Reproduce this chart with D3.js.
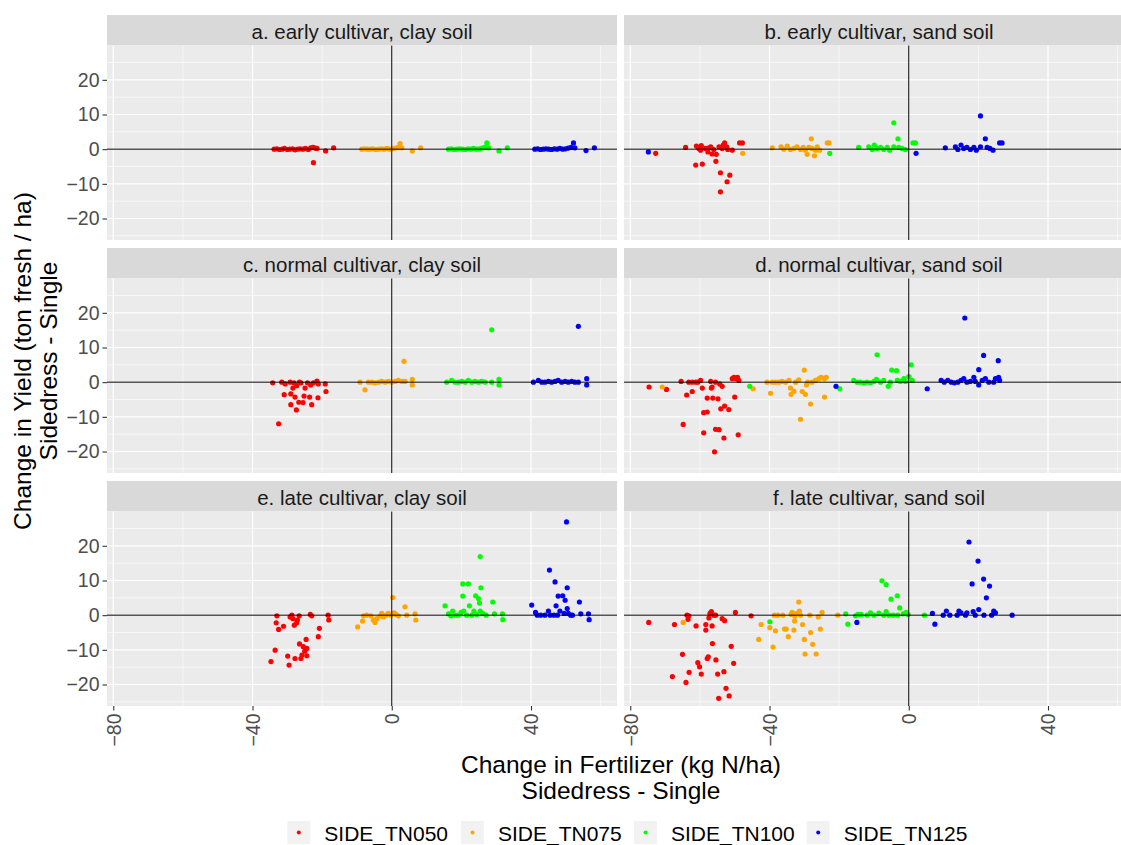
<!DOCTYPE html>
<html>
<head>
<meta charset="utf-8">
<script src="https://cdn.jsdelivr.net/npm/d3@7"></script>
<style>
  body { margin: 0; background: #fff; }
  svg { display: block; font-family: "Liberation Sans", Arial, sans-serif; }
</style>
</head>
<body>
<svg id="chart"></svg>
<script>
// series and facet labels
const seriesNames = ["SIDE_TN050", "SIDE_TN075", "SIDE_TN100", "SIDE_TN125"];
const seriesColors = ["#ff0000", "#ffa500", "#00ff00", "#0000ff"];
const panelTitles = [
  "a. early cultivar, clay soil", "b. early cultivar, sand soil",
  "c. normal cultivar, clay soil", "d. normal cultivar, sand soil",
  "e. late cultivar, clay soil", "f. late cultivar, sand soil"
];
const xTicks = [-80, -40, 0, 40];
const xMinor = [-60, -20, 20, 60];
const yTicks = [-20, -10, 0, 10, 20];
const yMinor = [-25, -15, -5, 5, 15, 25];

// [change in fertilizer, change in yield]
const a_TN050 = [[-33.8,0],[-33,0.1],[-32.2,-0.1],[-31.5,0],[-30.8,0.2],[-30,-0.1],[-29.3,0],[-28.5,0.1],[-27.8,-0.2],[-27,0],[-26.3,0.1],[-25.5,0],[-24.8,0.2],[-24,-0.1],[-23.3,0.4],[-22.6,0.5],[-22,0.3],[-21.5,0.2],[-22.5,-3.9],[-19,-0.5],[-16.7,0.4]];
const a_TN075 = [[-8.6,0],[-7.8,0.1],[-7,0],[-6.2,0],[-5.4,0.1],[-4.6,-0.1],[-3.8,0],[-3,0.1],[-2.2,0],[-1.4,0.2],[-0.6,0],[0.2,0.1],[1,0.3],[1.8,0.5],[2.4,1.6],[2.9,0.4],[5.9,-0.5],[8.3,0.4]];
const a_TN100 = [[16.3,0],[17.1,0.1],[17.9,-0.1],[18.7,0],[19.5,0.1],[20.3,0],[21.1,-0.1],[21.9,0.1],[22.7,0],[23.5,0.2],[24.3,0],[25.1,0.1],[25.9,0.3],[26.7,0.5],[27.3,1.8],[27.8,0.4],[30.8,-0.5],[33.2,0.4]];
const a_TN125 = [[41.1,0],[41.9,0.1],[42.7,-0.1],[43.5,0],[44.3,0.1],[45.1,0],[45.9,-0.1],[46.7,0.1],[47.5,0],[48.3,0.2],[49.1,0],[49.9,0.1],[50.7,0.3],[51.5,0.5],[52.2,1.8],[52.6,0.4],[55.8,-0.4],[58.2,0.4]];

const b_TN050 = [[-72.7,-1.2],[-64.1,0.5],[-61.2,-4.6],[-59.3,-4.3],[-61,0.9],[-59.8,-0.3],[-59.6,1],[-60.3,0.2],[-58.4,0.2],[-57.7,-0.8],[-57.4,0.4],[-56.9,0.7],[-56.5,-1.4],[-56,-0.1],[-55.3,-1.5],[-55.4,-3.5],[-54.5,0.7],[-54.1,-6.8],[-54.1,-12.3],[-53.6,0.2],[-53.3,1.2],[-52.9,1.8],[-52.3,0.7],[-52.2,-9.4],[-52,-0.1],[-51.4,-7.5],[-50.7,-0.3],[-48.6,1.8],[-47.8,1.8]];
const b_TN075 = [[-47.7,-1.2],[-39.2,0.4],[-36.7,0.7],[-35.9,0],[-34.9,0.9],[-34,-0.1],[-33,0.2],[-32.1,0.7],[-31.1,-0.1],[-30.3,0.5],[-29.7,-0.3],[-29.2,-1.5],[-28.7,0.5],[-28,3],[-27.8,0.2],[-27.1,-1.9],[-26.8,-0.3],[-26.3,0.7],[-25.6,-0.3],[-23.4,1.8],[-22.9,1.8]];
const b_TN100 = [[-22.7,-1.2],[-14.4,0.5],[-11.5,0.7],[-10.5,-0.1],[-9.9,1.2],[-9.1,0.2],[-8.1,0.5],[-7.2,-0.1],[-6.2,0.5],[-5.5,-0.3],[-4.3,7.6],[-4.3,0.7],[-3.1,3],[-2.9,0.5],[-1.9,0.2],[-1,-0.1],[1.2,1.8],[1.9,1.8]];
const b_TN125 = [[-74.8,-0.8],[2.1,-1.2],[10.5,0.4],[13.4,0.7],[14.1,-0.1],[15,1.2],[15.8,0.2],[16.7,0.5],[17.7,-0.1],[18.7,0.5],[19.4,-0.3],[20.6,9.6],[20.6,0.7],[22,3],[22.5,0.5],[23.3,0.2],[24.2,-0.3],[26.1,1.8],[26.8,1.8]];

const c_TN050 = [[-34.2,-0.2],[-31.6,0],[-30.6,-0.5],[-30.9,-3.6],[-32.5,-12],[-29.2,0],[-29,-3.4],[-28.4,-1.7],[-28.1,-0.2],[-27.8,-4.3],[-27.3,-1],[-29,-6.5],[-27.4,-8],[-26.7,-5.8],[-26.5,0],[-26.1,-0.2],[-25.5,-5.9],[-25.2,-4],[-24.9,-1.7],[-24.2,-0.2],[-23.6,-4.3],[-23.3,-0.8],[-23,-6.5],[-22.5,-0.2],[-21.5,0.3],[-21.2,-4.5],[-21.1,-0.5],[-19.1,-0.5],[-18.9,-2.7]];
const c_TN075 = [[-9.1,0],[-7.7,-2.2],[-6.7,0],[-5.7,0],[-4.8,-0.2],[-3.8,0],[-2.9,0.2],[-1.9,0],[-1,0.2],[0,0],[1,0.2],[1.9,0.5],[2.9,0.2],[3.5,6],[3.8,0.2],[5.9,0.8],[5.9,-0.8]];
const c_TN100 = [[15.8,0],[17.2,0.5],[18.2,0],[19.1,0],[20.1,0.2],[21.1,0],[22,0.5],[23,0],[23.9,0.2],[24.9,0],[25.8,0.2],[26.8,0],[28.7,15.1],[28.7,0],[30.8,0.8],[30.8,-0.8]];
const c_TN125 = [[40.7,0],[42.1,0.5],[43.1,0],[44,0],[45,0.2],[45.9,0],[46.9,0.2],[47.8,0.5],[48.8,0],[49.8,0.2],[50.7,0],[51.7,0.2],[52.6,0],[53.6,16.1],[53.6,0],[56,1],[56,-0.8]];

const d_TN050 = [[-74.6,-1.4],[-69.6,-2.1],[-65.4,0.2],[-64.8,-12.2],[-63.8,-3.7],[-63.2,0],[-62.2,-2.7],[-62.2,0],[-61.2,0],[-60.6,0],[-59.8,0.5],[-59.3,-1.7],[-58.9,-8.8],[-58.9,-14.6],[-57.9,-8.6],[-57.9,-4.6],[-56.9,0.2],[-56.7,-1.7],[-56.5,-1.4],[-56.3,-4.6],[-55.8,-20.1],[-55.5,0],[-55.5,-13.6],[-54.8,-4.8],[-54.5,-13.7],[-54.3,-0.5],[-54,-7.7],[-53.6,-1.2],[-53.1,-16.1],[-52.9,-6.9],[-51.7,-7.9],[-50.7,1],[-50.2,1.4],[-50,-4.3],[-49.7,1],[-49.2,1.4],[-49,-15.2],[-48.8,0.5]];
const d_TN075 = [[-70.8,-1.4],[-44.7,-1.9],[-40.7,0],[-39.7,-3.2],[-39.2,0],[-38.3,0],[-37.3,0],[-36.4,0.2],[-35.4,0],[-34.4,0.5],[-34,-1.7],[-33.8,-3.5],[-33,-2.6],[-32.5,0],[-31.6,0.7],[-31.1,-10.7],[-30.6,-2.7],[-30,3.5],[-29.7,-3.5],[-29.4,-0.8],[-29,0],[-28.2,-6.3],[-27.8,0],[-26.8,0.5],[-25.8,1],[-25.2,1.4],[-24.2,-4.3],[-24.2,1],[-23.7,1.4]];
const d_TN100 = [[-45.7,-1.2],[-19.8,-1.9],[-15.8,0.5],[-14.8,0],[-13.9,0],[-12.9,-0.2],[-12,0],[-11,-0.2],[-10,0.2],[-9.3,0.8],[-9.1,7.9],[-8.1,0],[-7.2,0.5],[-5.9,-1.2],[-5.3,0],[-4.9,3.5],[-3.5,3.3],[-3.3,0.5],[-2.4,0.2],[-1.4,1],[-1,0.2],[0,1.6],[0.7,5],[1,0.5]];
const d_TN125 = [[-20.9,-1.2],[5.3,-1.9],[9.3,0.5],[10.2,0],[11.2,0.5],[12.2,0],[13.1,-0.2],[14.1,0],[15,0.5],[15.8,1],[16.1,18.5],[16.7,0],[17.7,0.2],[18.7,1.4],[19.1,0.2],[20.1,3.6],[20.1,-0.8],[21.1,0.5],[21.5,7.7],[22,1],[23,0],[24.4,0],[24.9,1],[25.7,6.2],[25.8,1.4],[26.1,0.5]];

const e_TN050 = [[-34.7,-13.4],[-33.5,-10.1],[-33.2,-2.2],[-33,-0.2],[-32.5,-4.1],[-31.1,-3.2],[-29.9,-11.8],[-29.5,-14.4],[-29.2,-0.5],[-28.7,0],[-28.4,-1],[-28,-2.9],[-27.8,-12.5],[-27.3,-2.2],[-27.1,-1.4],[-26.6,-0.2],[-26.5,-8.3],[-26.1,-12.5],[-25.8,-11.5],[-25.4,-9.1],[-25,-10.4],[-24.6,-7],[-24.4,-9.6],[-24.4,-11.7],[-23.4,0.2],[-23,-0.2],[-21.1,-6.2],[-20.8,-3.8],[-18.3,0],[-18.1,-1.4]];
const e_TN075 = [[-9.8,-3.4],[-8.4,-1.7],[-8.1,-0.2],[-7.2,0],[-6,-0.2],[-5.3,-1.4],[-4.8,-2.1],[-4.3,-1],[-3.3,-0.2],[-2.9,0.5],[-2.4,-0.5],[-1.6,0],[-1,0.5],[-0.3,0],[0.3,5.1],[0.7,0.7],[1.2,0.2],[1.9,-0.2],[3.8,2.4],[4.3,0],[6.7,0.4],[6.9,-1.4]];
const e_TN100 = [[15.3,2.7],[16.3,0.4],[17,-0.2],[17.5,1.2],[18.2,0],[19.1,0],[19.9,0.8],[20.4,5.5],[20.4,9],[20.7,1.2],[21.5,0],[22,9],[22.3,2.7],[23,0],[23.6,1.2],[24.1,5.6],[24.4,0.2],[24.9,4.8],[25.2,3.5],[25.4,16.9],[25.4,1.2],[25.6,7.9],[26.1,0.5],[27.1,0],[29,3.8],[29.5,0.4],[31.8,0.4],[31.9,-1.3]];
const e_TN125 = [[40.2,2.9],[41.3,0.8],[41.8,0],[42.8,0],[44,0],[45,1.2],[45.3,13],[45.5,0],[46.6,0],[46.9,9.6],[47.2,2.7],[47.6,0],[47.8,5.5],[48.3,1.2],[49.1,5.6],[49.5,0.5],[49.8,4.3],[50.2,26.9],[50.4,7.9],[50.4,1.9],[50.7,0.5],[51.4,0],[51.9,0],[53.9,3.8],[54.3,0.4],[56.5,0.4],[56.7,-1.3]];

const f_TN050 = [[-74.7,-2.1],[-67.9,-17.7],[-67.3,-2.7],[-65,-11.3],[-64,-19.4],[-63.7,0],[-63.4,-1.2],[-63.1,-16.5],[-63.2,-0.2],[-61.1,-3.1],[-60.6,-13.7],[-60.1,-14.9],[-59.6,-17],[-58.3,-4.3],[-58.3,-2.7],[-57.9,-12.5],[-57.6,-12],[-57.4,-0.8],[-57.1,0.5],[-56.7,1],[-56.5,-3.1],[-56.4,-8.2],[-56,0],[-55.5,0],[-55.4,-12.9],[-54.9,-17],[-54.6,-24],[-53.6,-1],[-53.1,-16.3],[-52.9,-1.6],[-52.5,-21.1],[-51.6,-23.3],[-51,-9],[-50.3,-13.9],[-49.8,0.8],[-45.3,-0.2]];
const f_TN075 = [[-64.8,-2.1],[-43.1,-7],[-42.4,-2.7],[-39.9,-3.6],[-39,-9.2],[-38.6,0],[-38.3,-4.5],[-37.6,0],[-36.2,0],[-35.7,-4],[-35.2,-4],[-34.6,-6.2],[-33.8,0.2],[-33.5,0.8],[-33,-4.3],[-32.8,-1.7],[-32.7,-0.3],[-32.2,0.5],[-31.6,3.8],[-31.4,1.2],[-31.1,0],[-30.5,-2.7],[-30,-7],[-29.8,-11.2],[-28.4,0],[-28.2,-5],[-27.6,-8.4],[-26.6,-11.2],[-26,-0.5],[-25.4,-4],[-24.9,0.8],[-20.4,0]];
const f_TN100 = [[-39.9,-1.9],[-18.1,0.4],[-17.5,-2.6],[-15.3,-0.2],[-14.6,0.2],[-13.7,0.2],[-12,0],[-11,0.7],[-10,0],[-8.6,0.6],[-7.7,9.9],[-7.2,0],[-6.5,8.8],[-6.5,1],[-5.7,0],[-5.1,4.6],[-4.5,0],[-3.3,5.6],[-3.2,0],[-2.6,2.1],[-1.6,0.4],[-0.7,0.8],[-0.2,0.2],[4.5,0]];
const f_TN125 = [[-14.9,-2.1],[6.8,0.5],[7.5,-2.6],[9.9,0],[10.8,1.2],[11.8,0],[13.9,0],[14.4,1.2],[15,0.7],[16.3,0],[16.7,0.7],[17.3,21.1],[18.2,9],[18.5,1],[19.1,0],[19.9,15.6],[20.1,1.6],[21.5,10.4],[21.6,0],[22.3,5],[23.2,8.4],[23.8,0],[24.4,1.2],[24.9,0.7],[29.7,0]];

const panelData = [
  [a_TN050, a_TN075, a_TN100, a_TN125],
  [b_TN050, b_TN075, b_TN100, b_TN125],
  [c_TN050, c_TN075, c_TN100, c_TN125],
  [d_TN050, d_TN075, d_TN100, d_TN125],
  [e_TN050, e_TN075, e_TN100, e_TN125],
  [f_TN050, f_TN075, f_TN100, f_TN125]
];

const W = 1121, H = 845;
const svg = d3.select("#chart").attr("width", W).attr("height", H);

// facet geometry (panel b/d/f run past the right edge, as in the source)
const colX = [107, 624];
const rowY = [15, 248, 481];
const panelW = 510, stripH = 30.5, plotH = 194.5;

const x = d3.scaleLinear().domain([-81.8, 64.7]).range([0, panelW]);
const y = d3.scaleLinear().domain([-26.2, 29.9]).range([plotH, 0]);

panelTitles.forEach(function(title, i) {
  const col = i % 2, row = Math.floor(i / 2);
  const g = svg.append("g").attr("transform", `translate(${colX[col]}, ${rowY[row]})`);

  // strip
  g.append("rect").attr("width", panelW).attr("height", stripH).attr("fill", "#d9d9d9");
  g.append("text")
    .attr("x", panelW / 2).attr("y", 24)
    .attr("text-anchor", "middle")
    .attr("font-size", 20.5).attr("fill", "#1a1a1a")
    .text(title);

  const p = g.append("g").attr("transform", `translate(0, ${stripH})`);
  p.append("rect").attr("width", panelW).attr("height", plotH).attr("fill", "#ebebeb");

  // grid
  p.selectAll(".gxm").data(xMinor).enter().append("line")
    .attr("x1", d => x(d)).attr("x2", d => x(d)).attr("y1", 0).attr("y2", plotH)
    .attr("stroke", "#fff").attr("stroke-width", 0.6);
  p.selectAll(".gym").data(yMinor).enter().append("line")
    .attr("y1", d => y(d)).attr("y2", d => y(d)).attr("x1", 0).attr("x2", panelW)
    .attr("stroke", "#fff").attr("stroke-width", 0.6);
  p.selectAll(".gx").data(xTicks).enter().append("line")
    .attr("x1", d => x(d)).attr("x2", d => x(d)).attr("y1", 0).attr("y2", plotH)
    .attr("stroke", "#fff").attr("stroke-width", 1.2);
  p.selectAll(".gy").data(yTicks).enter().append("line")
    .attr("y1", d => y(d)).attr("y2", d => y(d)).attr("x1", 0).attr("x2", panelW)
    .attr("stroke", "#fff").attr("stroke-width", 1.2);

  // points
  panelData[i].forEach(function(pts, s) {
    p.append("g").selectAll("circle").data(pts).enter().append("circle")
      .attr("cx", d => x(d[0]))
      .attr("cy", d => y(d[1]))
      .attr("r", 2.6)
      .attr("fill", seriesColors[s]);
  });

  // zero reference lines
  p.append("line").attr("x1", 0).attr("x2", panelW).attr("y1", y(0)).attr("y2", y(0))
    .attr("stroke", "#000").attr("stroke-width", 1);
  p.append("line").attr("x1", x(0)).attr("x2", x(0)).attr("y1", 0).attr("y2", plotH)
    .attr("stroke", "#000").attr("stroke-width", 1);

  // y axis on left column
  if (col === 0) {
    const ya = p.append("g").call(d3.axisLeft(y).tickValues(yTicks).tickSize(4.5).tickPadding(3));
    ya.select(".domain").remove();
    ya.selectAll("line").attr("stroke", "#333").attr("stroke-width", 1.1);
    ya.selectAll("text").attr("font-size", 19.5).attr("fill", "#4d4d4d")
      .attr("font-family", "Liberation Sans, Arial, sans-serif");
  }
  // x axis on bottom row
  if (row === 2) {
    const xa = p.append("g").attr("transform", `translate(0, ${plotH})`)
      .call(d3.axisBottom(x).tickValues(xTicks).tickSize(4.5).tickPadding(3));
    xa.select(".domain").remove();
    xa.selectAll("line").attr("stroke", "#333").attr("stroke-width", 1.1);
    xa.selectAll("text")
      .attr("font-size", 19.5).attr("fill", "#4d4d4d")
      .attr("font-family", "Liberation Sans, Arial, sans-serif")
      .attr("transform", "rotate(-90)")
      .attr("text-anchor", "end")
      .attr("x", -7.5).attr("y", 0).attr("dy", "0.35em");
  }
});

// axis titles
const xt = svg.append("text").attr("text-anchor", "middle").attr("font-size", 24.5).attr("fill", "#000");
xt.append("tspan").attr("x", 621).attr("y", 773).text("Change in Fertilizer (kg N/ha)");
xt.append("tspan").attr("x", 621).attr("y", 799).text("Sidedress - Single");

const yt = svg.append("text").attr("text-anchor", "middle").attr("font-size", 24.5).attr("fill", "#000")
  .attr("transform", "translate(0, 361) rotate(-90)");
yt.append("tspan").attr("x", 0).attr("y", 31).text("Change in Yield (ton fresh / ha)");
yt.append("tspan").attr("x", 0).attr("y", 57).text("Sidedress - Single");

// legend
const legendX = [287.3, 461, 634, 806.7];
const lg = svg.append("g").attr("transform", "translate(0, 821)");
seriesNames.forEach(function(name, i) {
  const k = lg.append("g").attr("transform", `translate(${legendX[i]}, 0)`);
  k.append("rect").attr("width", 23).attr("height", 23).attr("fill", "#f2f2f2");
  k.append("circle").attr("cx", 11.5).attr("cy", 11.5).attr("r", 2).attr("fill", seriesColors[i]);
  k.append("text").attr("x", 37).attr("y", 19.5).attr("font-size", 21).attr("fill", "#000").text(name);
});
</script>
</body>
</html>
